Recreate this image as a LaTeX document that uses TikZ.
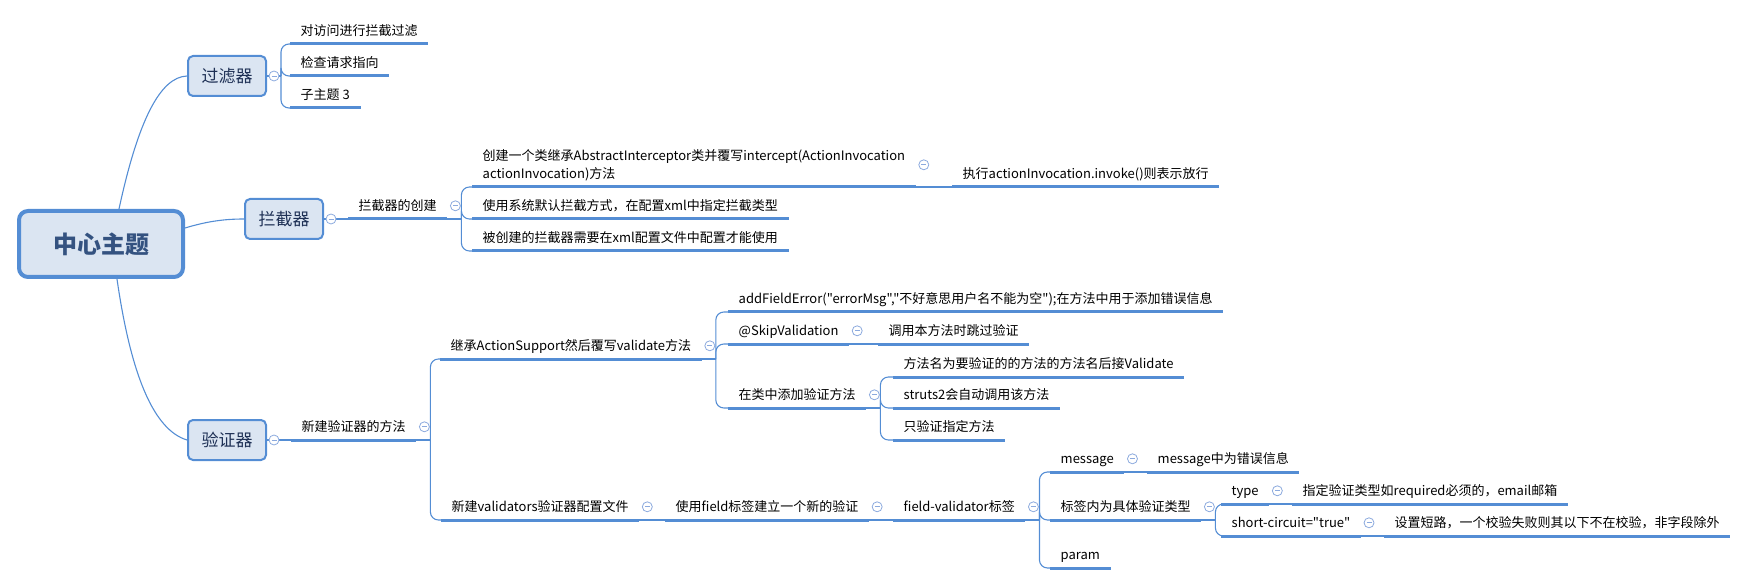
\documentclass[tikz,border=0pt]{standalone}
\usepackage{fontspec}
\setmainfont{Noto Sans CJK SC}[Ligatures=TeXOff]
\usepackage{tikz}

\definecolor{linkblue}{RGB}{84,141,212}
\definecolor{boxfill}{RGB}{219,229,242}
\definecolor{maintext}{RGB}{52,82,128}
\definecolor{boxtext}{RGB}{30,48,85}
\definecolor{foldline}{RGB}{140,170,222}

\begin{document}
\begin{tikzpicture}[x=1pt,y=-1pt,
  centre/.style={draw=linkblue,line width=4pt,fill=boxfill,rounded corners=9pt,
    minimum width=164pt,minimum height=66pt,text=maintext,
    font=\fontsize{24}{28}\selectfont\bfseries},
  mainbox/.style={draw=linkblue,line width=2pt,fill=boxfill,rounded corners=5pt,
    minimum width=78pt,minimum height=40pt,text=boxtext,
    font=\fontsize{17}{20}\selectfont},
  topic/.style={anchor=south west,inner xsep=10.5pt,inner ysep=0pt,
    text height=18pt,text depth=8pt,font=\fontsize{13}{18}\selectfont},
  link/.style={draw=linkblue,line width=1.1pt,rounded corners=8pt},
  uline/.style={draw=linkblue,line width=3pt},
  fold/.style={circle,draw=foldline,fill=white,line width=0.8pt,inner sep=0pt,
    minimum size=10pt,path picture={\draw[foldline,line width=0.8pt]
      ([xshift=-2.5pt]path picture bounding box.center) --
      ([xshift=2.5pt]path picture bounding box.center);}}]

\useasboundingbox (0,0) rectangle (1764,585);

% Main topics
\node[centre] (centre) at (101,244) {中心主题};
\node[mainbox] (guolv) at (227,76) {过滤器};
\node[mainbox] (lanjie) at (284,219) {拦截器};
\node[mainbox] (yanzheng) at (227,440) {验证器};

% Filter
\node[topic] (f1) at (290,44) {对访问进行拦截过滤};
\node[topic] (f2) at (290,76) {检查请求指向};
\node[topic] (f3) at (290,108) {子主题 3};

% Interceptor
\node[topic] (lc) at (348,219) {拦截器的创建};
\node[topic,text height=,text depth=,minimum height=44pt,align=left] (l1) at (472,187)
  {创建一个类继承AbstractInterceptor类并覆写intercept(ActionInvocation\\actionInvocation)方法};
\node[topic] (l2) at (472,219) {使用系统默认拦截方式，在配置xml中指定拦截类型};
\node[topic] (l3) at (472,251) {被创建的拦截器需要在xml配置文件中配置才能使用};
\node[topic] (l1a) at (952,187) {执行actionInvocation.invoke()则表示放行};

% Validator
\node[topic] (v0) at (291,440) {新建验证器的方法};
\node[topic] (va) at (440,359) {继承ActionSupport然后覆写validate方法};
\node[topic] (va1) at (728,312) {addFieldError("errorMsg","不好意思用户名不能为空");在方法中用于添加错误信息};
\node[topic] (va2) at (728,344) {@SkipValidation};
\node[topic] (va2a) at (878,344) {调用本方法时跳过验证};
\node[topic] (va3) at (728,408) {在类中添加验证方法};
\node[topic] (va3a) at (893,377) {方法名为要验证的的方法的方法名后接Validate};
\node[topic] (va3b) at (893,408) {struts2会自动调用该方法};
\node[topic] (va3c) at (893,440) {只验证指定方法};
\node[topic] (vb) at (441,520) {新建validators验证器配置文件};
\node[topic] (vb1) at (665,520) {使用field标签建立一个新的验证};
\node[topic] (vb2) at (893,520) {field-validator标签};
\node[topic] (vm) at (1050,472) {message};
\node[topic] (vm1) at (1147,472) {message中为错误信息};
\node[topic] (vt) at (1050,520) {标签内为具体验证类型};
\node[topic] (vt1) at (1221,504) {type};
\node[topic] (vt1a) at (1292,504) {指定验证类型如required必须的，email邮箱};
\node[topic] (vt2) at (1221,536) {short-circuit="true"};
\node[topic] (vt2a) at (1384,536) {设置短路，一个校验失败则其以下不在校验，非字段除外};
\node[topic] (vp) at (1050,568) {param};

% Branches from the centre
\draw[link] ([xshift=18pt]centre.north) .. controls (138,121) and (160,77) .. (guolv.west);
\draw[link] ([yshift=16pt]centre.east) .. controls (205,222) and (222,219) .. (lanjie.west);
\draw[link] ([xshift=16pt]centre.south) .. controls (131,376) and (154,430) .. (yanzheng.west);

% Forks
\coordinate (gf) at (281,76);
\coordinate (lf) at ([xshift=14pt]lc.south east);
\coordinate (vf) at ([xshift=14pt]v0.south east);
\coordinate (af) at ([xshift=14pt]va.south east);
\coordinate (cf) at ([xshift=14pt]va3.south east);
\coordinate (bf) at ([xshift=14pt]vb2.south east);
\coordinate (tf) at ([xshift=14pt]vt.south east);

\draw[link] (guolv.east) -- (gf);
\foreach \c in {f1,f2,f3} \draw[link] (gf) |- (\c.south west);
\draw[link] (lanjie.east) -- (lc.south west);
\draw[link] (lc.south east) -- (lf);
\foreach \c in {l1,l2,l3} \draw[link] (lf) |- (\c.south west);
\draw[link] (l1.south east) -- (l1a.south west);

\draw[link] (yanzheng.east) -- (v0.south west);
\draw[link] (v0.south east) -- (vf);
\foreach \c in {va,vb} \draw[link] (vf) |- (\c.south west);
\draw[link] (va.south east) -- (af);
\foreach \c in {va1,va2,va3} \draw[link] (af) |- (\c.south west);
\draw[link] (va2.south east) -- (va2a.south west);
\draw[link] (va3.south east) -- (cf);
\foreach \c in {va3a,va3b,va3c} \draw[link] (cf) |- (\c.south west);
\draw[link] (vb.south east) -- (vb1.south west);
\draw[link] (vb1.south east) -- (vb2.south west);
\draw[link] (vb2.south east) -- (bf);
\foreach \c in {vm,vt,vp} \draw[link] (bf) |- (\c.south west);
\draw[link] (vm.south east) -- (vm1.south west);
\draw[link] (vt.south east) -- (tf);
\foreach \c in {vt1,vt2} \draw[link] (tf) |- (\c.south west);
\draw[link] (vt1.south east) -- (vt1a.south west);
\draw[link] (vt2.south east) -- (vt2a.south west);

% Underlines
\foreach \n in {f1,f2,f3,lc,l1,l2,l3,l1a,v0,va,va1,va2,va2a,va3,va3a,va3b,va3c,
  vb,vb1,vb2,vm,vm1,vt,vt1,vt1a,vt2,vt2a,vp}
  \draw[uline] (\n.south west) -- (\n.south east);

% Fold buttons
\foreach \p in {guolv,lanjie,yanzheng}
  \node[fold] (\p-fold) at ([xshift=7pt]\p.east) {};
\foreach \p in {lc,l1,v0,va,va2,va3,vb,vb1,vb2,vm,vt,vt1,vt2}
  \node[fold] (\p-fold) at ([xshift=8pt]\p.east) {};
\end{tikzpicture}
\end{document}
